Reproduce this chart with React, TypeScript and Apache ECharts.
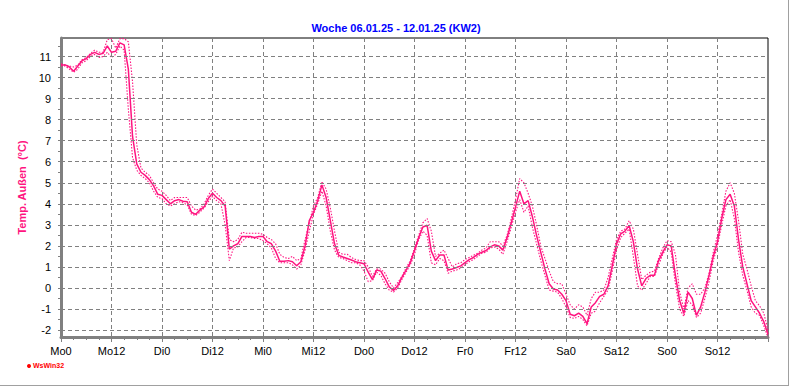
import React, { useEffect, useRef } from "react";
import * as echarts from "echarts";

const TITLE = "Woche 06.01.25 - 12.01.25 (KW2)";
const Y_NAME = "Temp. Außen  (°C)";
const DAY_NAMES = ["Mo", "Di", "Mi", "Do", "Fr", "Sa", "So"];
const Y_TICKS = [-2, -1, 0, 1, 2, 3, 4, 5, 6, 7, 8, 9, 10, 11];
const Y_MINOR = [-2, -1.5, -1, -0.5, 0, 0.5, 1, 1.5, 2, 2.5, 3, 3.5, 4, 4.5, 5, 5.5, 6, 6.5, 7, 7.5, 8, 8.5, 9, 9.5, 10, 10.5, 11, 11.5];

// hourly values, hour 0 = Mo 0:00 ... hour 168 = end of So
const tempMean = [
  10.6, 10.6, 10.5, 10.3, 10.55, 10.8, 10.9, 11.1, 11.2, 11.1, 11.15, 11.5, 11.2, 11.25, 11.65, 11.55,
  10.4, 7.2, 5.9, 5.5, 5.35, 5.15, 4.85, 4.45,
  4.4, 4.2, 4.0, 4.15, 4.2, 4.12, 4.1, 3.6, 3.5, 3.7, 3.85, 4.25,
  4.5, 4.3, 4.15, 3.9, 1.85, 2.0, 2.1, 2.45, 2.45, 2.45, 2.4, 2.45,
  2.45, 2.2, 2.1, 1.75, 1.27, 1.27, 1.3, 1.25, 1.06, 1.25, 2.0, 3.2,
  3.6, 4.15, 4.9, 4.3, 3.2, 2.1, 1.55, 1.47, 1.4, 1.33, 1.25, 1.2,
  1.15, 0.75, 0.4, 0.85, 0.8, 0.45, 0.05, -0.12, 0.1, 0.5, 0.85, 1.2,
  1.78, 2.4, 2.9, 2.98, 1.75, 1.3, 1.57, 1.57, 0.85, 0.9, 0.97, 1.05,
  1.2, 1.35, 1.45, 1.6, 1.7, 1.78, 1.95, 2.05, 2.0, 1.8, 2.4, 3.1,
  3.84, 4.6, 4.0, 4.15, 3.4, 2.5, 1.7, 0.9, 0.2, -0.05, -0.1, -0.3,
  -0.6, -1.25, -1.32, -1.2, -1.35, -1.7, -0.9, -0.7, -0.4, -0.3, 0.1, 1.06,
  2.08, 2.57, 2.7, 2.97, 2.2, 0.9, 0.1, 0.45, 0.6, 0.6, 1.3, 1.7,
  2.05, 2.0, 0.6, -0.6, -1.22, -0.2, -0.5, -1.3, -0.9, -0.2, 0.6, 1.5,
  2.2, 3.3, 4.2, 4.45, 3.9, 2.3, 1.0, 0.2, -0.6, -0.9, -1.2, -1.6,
  -2.2,
];

const tempMax = [
  10.65, 10.6, 10.55, 10.5, 10.6, 10.85, 10.95, 11.15, 11.3, 11.2, 11.2, 11.8, 11.85, 11.4, 11.85, 11.85,
  11.7, 9.8, 6.8, 5.7, 5.5, 5.35, 5.0, 4.7,
  4.6, 4.4, 4.15, 4.3, 4.3, 4.3, 4.3, 3.9, 3.7, 3.75, 4.0, 4.4,
  4.7, 4.5, 4.3, 4.1, 2.3, 2.2, 2.3, 2.65, 2.6, 2.6, 2.6, 2.6,
  2.55, 2.4, 2.3, 2.1, 1.6, 1.45, 1.4, 1.5, 1.3, 1.4, 2.3, 3.1,
  3.9, 4.3, 5.05, 4.7, 3.8, 2.7, 1.7, 1.6, 1.6, 1.45, 1.35, 1.3,
  1.3, 1.0, 0.55, 0.9, 0.9, 0.7, 0.3, 0.0, 0.25, 0.55, 0.95, 1.3,
  1.9, 2.5, 3.1, 3.3, 2.7, 1.5, 1.65, 1.8, 1.4, 1.0, 1.15, 1.2,
  1.35, 1.45, 1.55, 1.65, 1.8, 1.9, 2.2, 2.2, 2.2, 2.0, 2.5, 3.3,
  4.2, 5.2, 5.0, 4.5, 3.9, 3.0, 2.0, 1.4, 0.8, 0.3, 0.2, 0.2,
  -0.3, -0.8, -1.0, -0.8, -0.9, -1.3, -0.5, -0.2, -0.2, -0.1, 0.5, 1.4,
  2.3, 2.7, 2.8, 3.2, 2.8, 1.6, 0.4, 0.6, 0.75, 0.8, 1.4, 1.9,
  2.25, 2.2, 1.6, -0.2, -1.0, 0.0, 0.2, -0.3, -0.3, 0.0, 0.7, 1.7,
  2.5, 3.5, 4.6, 5.0, 4.5, 3.2, 1.6, 0.9, 0.1, -0.6, -0.85, -1.2,
  -2.0,
];

const tempMin = [
  10.55, 10.55, 10.4, 10.25, 10.4, 10.7, 10.8, 11.0, 11.1, 10.95, 11.0, 11.2, 10.95, 11.1, 11.5, 11.3,
  8.5, 6.2, 5.6, 5.35, 5.2, 5.0, 4.6, 4.3,
  4.25, 4.0, 3.9, 4.0, 4.1, 4.05, 3.95, 3.5, 3.45, 3.6, 3.8, 4.1,
  4.35, 4.15, 4.0, 3.0, 1.3, 1.9, 1.95, 2.2, 2.4, 2.4, 2.35, 2.35,
  2.25, 2.1, 1.9, 1.4, 1.2, 1.2, 1.2, 1.1, 0.9, 1.1, 1.8, 2.7,
  3.5, 4.0, 4.6, 3.9, 2.7, 1.8, 1.45, 1.4, 1.3, 1.2, 1.2, 1.1,
  0.8, 0.3, 0.35, 0.75, 0.6, 0.2, -0.1, -0.2, 0.0, 0.4, 0.75, 1.1,
  1.6, 2.3, 2.7, 2.5, 1.2, 1.1, 1.4, 1.3, 0.7, 0.8, 0.85, 0.95,
  1.1, 1.25, 1.35, 1.5, 1.65, 1.7, 1.9, 1.95, 1.85, 1.6, 2.2, 2.9,
  3.6, 4.2, 3.6, 3.9, 2.9, 2.1, 1.3, 0.6, -0.1, -0.15, -0.2, -0.5,
  -0.9, -1.4, -1.45, -1.35, -1.5, -1.8, -1.2, -1.1, -0.7, -0.4, -0.1, 0.8,
  1.8, 2.4, 2.6, 2.8, 1.5, 0.1, -0.1, 0.2, 0.55, 0.55, 1.1, 1.6,
  1.95, 1.7, 0.2, -1.0, -1.35, -0.6, -0.8, -1.4, -1.2, -0.5, 0.3, 1.3,
  2.0, 3.0, 3.9, 4.2, 3.3, 1.7, 0.6, -0.1, -0.9, -1.2, -1.3, -1.8,
  -2.35,
];

const PINK = "#FF1480";
const GRAY = "#808080";
const FONT = "'Liberation Sans', Arial, sans-serif";

export default function App() {
  const ref = useRef<HTMLDivElement>(null);
  useEffect(() => {
    if (!ref.current) return;
    const chart = echarts.init(ref.current, undefined, { renderer: "svg" });
    const toPairs = (arr: number[]) => arr.map((v, i) => [i, v]);
    chart.setOption({
      animation: false,
      backgroundColor: "#ffffff",
      title: {
        text: TITLE,
        left: "center",
        top: 17,
        textStyle: { color: "#0000FF", fontSize: 11, fontWeight: "bold", fontFamily: FONT },
      },
      grid: {
        left: 61,
        top: 38,
        width: 707,
        height: 299,
        show: true,
        borderColor: "#000000",
        borderWidth: 1,
        backgroundColor: "transparent",
        containLabel: false,
      },
      xAxis: {
        type: "value",
        min: 0,
        max: 168,
        interval: 12,
        axisLine: { show: true, onZero: false, lineStyle: { color: GRAY, width: 3 } },
        axisTick: { show: true, length: 5, lineStyle: { color: GRAY, width: 1 } },
        minorTick: { show: true, splitNumber: 4, length: 3, lineStyle: { color: GRAY, width: 1 } },
        splitLine: { show: true, lineStyle: { color: GRAY, type: [4, 3], width: 1 } },
        axisLabel: {
          color: "#000",
          fontSize: 11,
          fontFamily: FONT,
          margin: 8,
          showMaxLabel: false,
          formatter: (v: number) => {
            if (v >= 168) return "";
            const d = Math.floor(v / 24);
            return DAY_NAMES[d] + String(v % 24);
          },
        },
      },
      yAxis: {
        type: "value",
        min: -2.33,
        max: 11.88,
        name: Y_NAME,
        nameLocation: "middle",
        nameGap: 29,
        nameRotate: 90,
        nameTextStyle: { color: PINK, fontSize: 11, fontWeight: "bold", fontFamily: FONT },
        axisLine: { show: true, onZero: false, lineStyle: { color: GRAY, width: 3 } },
        axisTick: { show: true, length: 3, customValues: Y_MINOR, lineStyle: { color: GRAY, width: 1 } },
        splitLine: { show: false },
        axisLabel: {
          color: "#000",
          fontSize: 11,
          fontFamily: FONT,
          margin: 10,
          customValues: Y_TICKS,
          formatter: (v: number) => String(v),
        },
      },
      series: [
        {
          type: "line",
          data: [],
          silent: true,
          z: 1,
          markLine: {
            silent: true,
            symbol: ["none", "none"],
            label: { show: false },
            lineStyle: { color: GRAY, type: [4, 3], width: 1 },
            data: Y_TICKS.map((v) => ({ yAxis: v })),
          },
        },
        {
          name: "max",
          type: "line",
          data: toPairs(tempMax),
          showSymbol: false,
          symbol: "none",
          z: 3,
          lineStyle: { color: PINK, width: 1.1, type: [1.5, 1.5] },
        },
        {
          name: "min",
          type: "line",
          data: toPairs(tempMin),
          showSymbol: false,
          symbol: "none",
          z: 3,
          lineStyle: { color: PINK, width: 1.1, type: [1.5, 1.5] },
        },
        {
          name: "mittel",
          type: "line",
          data: toPairs(tempMean),
          showSymbol: false,
          symbol: "none",
          z: 4,
          lineStyle: { color: PINK, width: 1.5 },
        },
      ],
      graphic: [
        { type: "circle", shape: { cx: 29, cy: 366, r: 2 }, style: { fill: "#FF0000" } },
        {
          type: "text",
          x: 33,
          y: 362,
          style: { text: "WsWin32", fill: "#FF0000", fontSize: 7, fontWeight: "bold", fontFamily: FONT },
        },
        { type: "line", shape: { x1: 0, y1: 385.5, x2: 789, y2: 385.5 }, style: { stroke: "#A0A0A0", lineWidth: 1 } },
        { type: "line", shape: { x1: 788.5, y1: 0, x2: 788.5, y2: 386 }, style: { stroke: "#A0A0A0", lineWidth: 1 } },
      ],
    });
    return () => chart.dispose();
  }, []);
  return (
    <div
      ref={ref}
      style={{ position: "absolute", left: 0, top: 0, width: 792, height: 387, background: "#fff" }}
    />
  );
}
